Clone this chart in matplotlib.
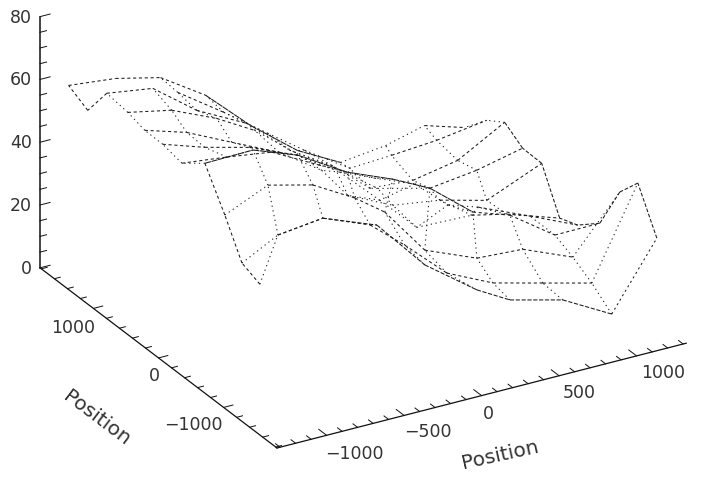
import numpy as np
import matplotlib
matplotlib.use("Agg")
import matplotlib.pyplot as plt

# Surface samples: each row is a line of constant y position, the x positions are irregular
y_rows = [-1400, -1120, -840, -560, -280, 0, 280, 560, 840, 1120, 1400]
x_samples = [
    [-1254, -1138, -848, -499, -190, 146, 359, 700, 1016, 1307],
    [-1252, -1020, -730, -426, -201, 70, 367, 689, 1005, 1302],
    [-1245, -967, -677, -406, -213, 45, 381, 677, 1000, 1303],
    [-1256, -946, -656, -340, -43, 196, 473, 712, 1002, 1292],
    [-1287, -997, -707, -397, -42, 216, 429, 622, 958, 1267],
    [-1293, -1022, -731, -428, -151, 107, 346, 700, 926, 1268],
    [-1291, -1020, -730, -426, -149, 19, 309, 612, 915, 1270],
    [-1283, -1000, -709, -464, -206, 52, 329, 665, 968, 1264],
    [-1301, -1004, -720, -398, -120, 150, 396, 673, 963, 1266],
    [-1306, -1000, -726, -429, -145, 93, 384, 654, 945, 1267],
    [-1312, -1009, -719, -428, -138, 165, 442, 733, 984, 1242],
]
z_samples = [
    [44.7, 58.9, 60.6, 54.0, 37.4, 25.2, 19.3, 15.0, 6.5, 27.0],
    [47.0, 53.0, 54.7, 48.7, 39.4, 27.1, 20.2, 16.1, 12.1, 40.2],
    [57.8, 63.8, 60.2, 52.6, 45.7, 30.3, 23.5, 22.6, 16.0, 32.9],
    [70.0, 70.3, 65.0, 55.6, 49.6, 43.7, 32.6, 28.6, 18.6, 18.7],
    [66.0, 64.3, 62.2, 54.1, 45.5, 40.4, 31.0, 27.9, 20.8, 14.0],
    [67.7, 63.3, 59.6, 53.3, 44.4, 32.2, 20.5, 19.9, 17.4, 11.8],
    [67.7, 63.6, 56.8, 49.8, 40.5, 30.4, 23.6, 21.4, 17.5, 24.8],
    [68.9, 66.0, 59.7, 52.8, 42.6, 34.5, 24.3, 20.1, 22.0, 25.3],
    [70.8, 68.6, 58.0, 49.8, 37.7, 29.5, 19.1, 18.1, 20.8, 29.1],
    [61.0, np.nan, 59.4, 49.3, 39.0, 30.6, 21.2, 21.9, 23.0, 25.3],
    [64.6, 63.0, 59.6, 50.3, 37.0, 25.2, 17.9, 19.6, 22.8, 18.9],
]

x_range = [-1320, 1320]
y_range = [-1820, 1820]
z_range = [0, 80]
x_ticks = list(range(-1300, 1301, 100))
y_ticks = list(range(-1800, 1801, 200))
z_ticks = list(range(0, 81, 5))
x_labels = {-1000: "\u22121000", -500: "\u2212500", 0: "0", 500: "500", 1000: "1000"}
y_labels = {1000: "1000", 0: "0", -1000: "\u22121000"}
z_labels = {0: "0", 20: "20", 40: "40", 60: "60", 80: "80"}
axis_title = "Position"


def project(x, y, z):
    """Oblique view of the 3-D box onto the figure's pixel grid."""
    x, y, z = np.asarray(x, float), np.asarray(y, float), np.asarray(z, float)
    u = x + 1320.0
    v = y + 1820.0
    return 277 + 0.155 * u - 0.0651 * v, 448 - 0.0397 * u - 0.0495 * v - 3.14 * z


plt.rcParams["font.family"] = "DejaVu Sans"
fig = plt.figure(figsize=(7.01, 4.91), dpi=100)
ax = fig.add_axes([0, 0, 1, 1])
ax.set_xlim(0, 701)
ax.set_ylim(491, 0)
ax.axis("off")

X = np.array(x_samples, float)
Z = np.array(z_samples, float)
Y = np.repeat(np.array(y_rows, float)[:, None], X.shape[1], axis=1)
SX, SY = project(X, Y, Z)

DOT = (1.2, 3.4)
DASH = (3, 2.6)
SOLID = (6, 0.6)
ink = "#1a1a1a"


def row_style(j, i):
    if j == 10:
        if 3 <= i <= 5:
            return SOLID
        if 6 <= i <= 7:
            return DOT
        return DASH
    if j == 3:
        return SOLID if 0 <= i <= 5 else DASH
    if j in (0, 1, 2):
        if i == 8 and j > 0:
            return DOT
        if i == 0 and j > 0:
            return DOT
        if j == 0 and i == 0:
            return DOT
        if j == 0 and i == 8:
            return (2, 3)
        if j == 0 and i >= 2:
            return (4, 1.6)
        return DASH
    if 3 <= i <= 6:
        return DOT
    return DASH


for j in range(SX.shape[0]):
    for i in range(SX.shape[1] - 1):
        ax.plot(SX[j, i:i + 2], SY[j, i:i + 2], color=ink, lw=0.75, ls=(0, row_style(j, i)))

for i in range(SX.shape[1]):
    for j in range(SX.shape[0] - 1):
        if i == 0:
            dash = DASH if (j <= 2 or j >= 8) else DOT
        elif i == 9:
            dash = (3.5, 1.8) if j <= 7 else DOT
        else:
            dash = DOT
        ax.plot(SX[j:j + 2, i], SY[j:j + 2, i], color=ink, lw=0.75, ls=(0, dash))

# Axes of the box
ax_col = "#111111"
a = project(x_range, [y_range[0]] * 2, [0, 0])
ax.plot(a[0], a[1], color=ax_col, lw=0.9)
b = project([x_range[0]] * 2, y_range, [0, 0])
ax.plot(b[0], b[1], color=ax_col, lw=0.9)
c = project([x_range[0]] * 2, [y_range[1]] * 2, z_range)
ax.plot(c[0], c[1], color=ax_col, lw=1.1)

for t in x_ticks:
    ln = 120 if t % 500 == 0 else 70
    p = project([t, t], [y_range[0], y_range[0] + ln], [0, 0])
    ax.plot(p[0], p[1], color=ax_col, lw=0.7)
for t in y_ticks:
    ln = 60 if t % 1000 == 0 else 38
    p = project([x_range[0], x_range[0] + ln], [t, t], [0, 0])
    ax.plot(p[0], p[1], color=ax_col, lw=0.7)
for t in z_ticks:
    ln = 65 if t % 20 == 0 else 42
    p = project([x_range[0], x_range[0] + ln], [y_range[1]] * 2, [t, t])
    ax.plot(p[0], p[1], color=ax_col, lw=0.7)

txt = dict(fontsize=12.5, color="#333333", ha="center", va="center")
x_off = {-1000: (28, 19), -500: (24, 17), 0: (7, 18), 500: (20, 17), 1000: (27, 17)}
for t, s in x_labels.items():
    px, py = project(t, y_range[0], 0)
    ax.text(px + x_off[t][0], py + x_off[t][1], s, **txt)
y_off = {1000: (-20, 20), 0: (-4, 18), -1000: (-30, 18)}
for t, s in y_labels.items():
    px, py = project(x_range[0], t, 0)
    ax.text(px + y_off[t][0], py + y_off[t][1], s, **txt)
for t, s in z_labels.items():
    px, py = project(x_range[0], y_range[1], t)
    ax.text(px - 8, py + 1, s, fontsize=12.5, color="#333333", ha="right", va="center")

ax.text(500, 455, axis_title, fontsize=14.5, color="#333333", rotation=12.5,
        ha="center", va="center", rotation_mode="anchor")
ax.text(97, 418, axis_title, fontsize=14.5, color="#333333", rotation=-37,
        ha="center", va="center", rotation_mode="anchor")

fig.savefig("out.png", dpi=100, facecolor="white")
